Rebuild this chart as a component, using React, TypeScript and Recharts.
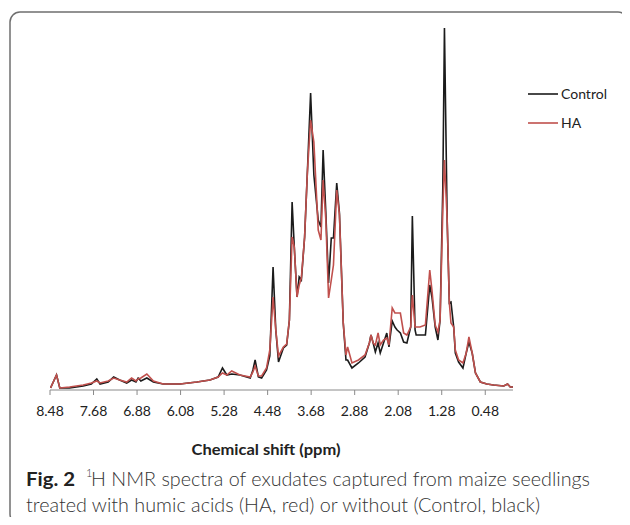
import React from 'react';
import { LineChart, Line, XAxis, YAxis } from 'recharts';

// chemical shift (ppm), left to right on the reversed axis
const ppm = [
  8.47, 8.36, 8.3, 8.12, 7.87, 7.72, 7.62, 7.56, 7.41, 7.31, 7.2, 7.07, 6.98, 6.9, 6.86, 6.81, 6.7, 6.58, 6.4, 6.09,
  5.78, 5.54, 5.39, 5.31, 5.23, 5.14, 4.99, 4.8, 4.75, 4.71, 4.65, 4.59, 4.5, 4.44, 4.38, 4.33, 4.28, 4.19, 4.13, 4.08,
  4.03, 3.99, 3.94, 3.9, 3.86, 3.8, 3.75, 3.69, 3.63, 3.55, 3.5, 3.46, 3.41, 3.36, 3.31, 3.27, 3.21, 3.16, 3.09, 3.04,
  3.01, 2.93, 2.81, 2.69, 2.61, 2.58, 2.54, 2.5, 2.45, 2.41, 2.35, 2.29, 2.25, 2.19, 2.14, 2.1, 2.04, 1.98, 1.92, 1.85,
  1.82, 1.77, 1.75, 1.68, 1.58, 1.5, 1.46, 1.4, 1.35, 1.31, 1.26, 1.23, 1.18, 1.14, 1.11, 1.06, 1.03, 0.97, 0.89, 0.83,
  0.78, 0.72, 0.66, 0.57, 0.45, 0.33, 0.14, 0.07, 0.02, -0.03,
];

const control = [
  2, 15, 2, 2, 4, 6, 11, 6, 8, 13, 10, 7, 10, 8, 12, 9, 12, 8, 6, 6,
  8, 10, 13, 22, 15, 16, 15, 12, 20, 30, 13, 12, 20, 34, 123, 60, 28, 42, 45, 70,
  188, 143, 93, 113, 110, 153, 217, 297, 215, 170, 163, 240, 177, 107, 152, 152, 207, 177, 67, 30,
  30, 22, 27, 33, 47, 55, 47, 38, 47, 37, 47, 57, 43, 69, 63, 60, 57, 48, 47, 63,
  174, 60, 55, 55, 55, 105, 93, 63, 50, 70, 203, 362, 170, 87, 88, 63, 37, 28, 22, 37,
  48, 37, 17, 8, 6, 5, 4, 6, 3, 3,
];

const ha = [
  2, 15, 2, 3, 5, 7, 9, 7, 9, 12, 10, 8, 12, 9, 11, 12, 16, 9, 6, 6,
  8, 10, 13, 17, 15, 19, 15, 13, 18, 24, 14, 14, 22, 40, 93, 60, 34, 43, 46, 70,
  153, 143, 93, 105, 112, 153, 217, 270, 248, 160, 150, 210, 170, 92, 110, 125, 200, 175, 67, 35,
  43, 27, 30, 35, 47, 55, 47, 45, 57, 45, 50, 52, 45, 82, 77, 77, 77, 57, 55, 63,
  95, 63, 63, 63, 65, 120, 100, 65, 58, 70, 180, 230, 170, 87, 67, 63, 40, 30, 27, 37,
  53, 37, 17, 8, 6, 5, 4, 6, 3, 3,
];

const tickValues = [8.48, 7.68, 6.88, 6.08, 5.28, 4.48, 3.68, 2.88, 2.08, 1.28, 0.48];

const data = ppm.map((p, i) => ({ ppm: p, control: control[i], ha: ha[i] }));

const BLACK = '#1b1b1b';
const RED = '#c0504d';

export default function App() {
  return (
    <div style={{ position: 'relative', width: 630, height: 525, margin: -8, background: '#fff', overflow: 'hidden' }}>
      <LineChart width={630} height={525} data={data} margin={{ top: 28, right: 117, bottom: 105, left: 50 }}>
        <XAxis
          dataKey="ppm"
          type="number"
          reversed
          domain={[-0.03, 8.48]}
          ticks={tickValues}
          tickFormatter={(v: number) => v.toFixed(2)}
          height={30}
          tickSize={5}
          tickMargin={11}
          stroke="#8a8a8a"
          tick={{ fill: '#222', fontSize: 14, fontFamily: 'Lato' }}
          allowDataOverflow
        />
        <YAxis hide domain={[0, 362]} />
        <Line type="linear" dataKey="control" stroke={BLACK} strokeWidth={1.6} dot={false} isAnimationActive={false} />
        <Line type="linear" dataKey="ha" stroke={RED} strokeWidth={1.6} dot={false} isAnimationActive={false} />
      </LineChart>
      <svg width={630} height={525} style={{ position: 'absolute', left: 0, top: 0, pointerEvents: 'none' }}>
        <rect x={10} y={12} width={618} height={512} rx={10} fill="none" stroke="#6f6f6f" strokeWidth={1.5} />
        {/* legend */}
        <line x1={528} x2={558} y1={94} y2={94} stroke={BLACK} strokeWidth={1.6} />
        <text x={561} y={99} fontFamily="Lato" fontSize={14} fill="#222">Control</text>
        <line x1={528} x2={558} y1={123} y2={123} stroke={RED} strokeWidth={1.6} />
        <text x={561} y={128} fontFamily="Lato" fontSize={14} fill="#222">HA</text>
        <text x={266} y={455} textAnchor="middle" fontFamily="Lato" fontWeight={700} fontSize={15} fill="#222"
          textLength={149} lengthAdjust="spacingAndGlyphs">
          Chemical shift (ppm)
        </text>
        <text x={26} y={486} fontFamily="Lato" fontWeight={700} fontSize={19} fill="#222" textLength={49} lengthAdjust="spacingAndGlyphs">
          Fig. 2
        </text>
        <text x={86} y={477} fontFamily="Lato" fontWeight={300} fontSize={11} fill="#444">1</text>
        <text x={91} y={486} fontFamily="Lato" fontWeight={300} fontSize={19} fill="#333" textLength={499} lengthAdjust="spacingAndGlyphs">
          H NMR spectra of exudates captured from maize seedlings
        </text>
        <text x={26} y={512} fontFamily="Lato" fontWeight={300} fontSize={19} fill="#333" textLength={514} lengthAdjust="spacingAndGlyphs">
          treated with humic acids (HA, red) or without (Control, black)
        </text>
      </svg>
    </div>
  );
}
